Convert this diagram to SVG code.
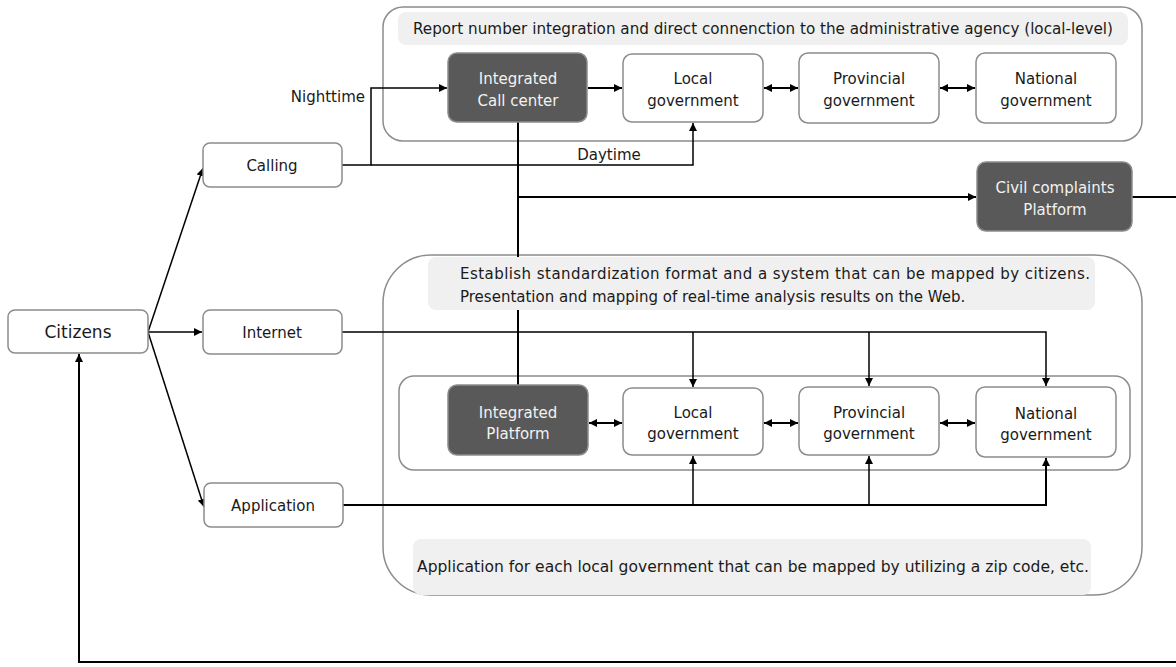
<svg xmlns="http://www.w3.org/2000/svg" width="1176" height="667" viewBox="0 0 1176 667">
  <defs>
    <marker id="ah" viewBox="0 0 10 10" refX="10" refY="5" markerWidth="8" markerHeight="8" markerUnits="userSpaceOnUse" orient="auto-start-reverse">
      <path d="M0,0 L10,5 L0,10 z" fill="#000"/>
    </marker>
    <style>
      .box { fill: #fff; stroke: #8c8c8c; stroke-width: 1.5; }
      .dark { fill: #595959; stroke: #8c8c8c; stroke-width: 1.5; }
      .group { fill: #fff; stroke: #8c8c8c; stroke-width: 1.5; }
      .note { fill: #f0f0f0; stroke: none; }
      .t { font-family: "DejaVu Sans", "Liberation Sans", sans-serif; font-size: 15px; fill: #1a1a1a; text-anchor: middle; }
      .w { fill: #f2f2f2; }
      .n { font-family: "DejaVu Sans", "Liberation Sans", sans-serif; font-size: 15px; fill: #1a1a1a; }
      .ln { fill: none; stroke: #000; stroke-width: 1.5; }
      .lnb { fill: none; stroke: #000; stroke-width: 2; }
    </style>
  </defs>

  <!-- containers -->
  <g id="top-group">
    <rect class="group" x="383" y="7" width="759" height="134" rx="20"/>
    <rect class="note" x="398" y="12" width="730" height="33" rx="8"/>
    <text class="t" x="763" y="34" textLength="700" lengthAdjust="spacingAndGlyphs">Report number integration and direct connenction to the administrative agency (local-level)</text>
  </g>
  <g id="bottom-group">
    <rect class="group" x="383" y="255" width="759" height="340" rx="48"/>
    <rect class="group" x="399" y="376" width="731" height="94" rx="15"/>
  </g>

  <!-- connectors -->
  <g id="connectors">
    <line class="ln" x1="148" y1="332" x2="203" y2="168" marker-end="url(#ah)"/>
    <line class="ln" x1="148" y1="332" x2="202" y2="332" marker-end="url(#ah)"/>
    <line class="ln" x1="148" y1="332" x2="204" y2="507" marker-end="url(#ah)"/>
    <!-- calling: nighttime / daytime -->
    <polyline class="ln" points="342,165 371,165 371,88 447,88" marker-end="url(#ah)"/>
    <polyline class="ln" points="371,165 693,165 693,123" marker-end="url(#ah)"/>
    <line class="lnb" x1="588" y1="88" x2="622" y2="88" marker-end="url(#ah)"/>
    <line class="lnb" x1="764" y1="88" x2="798" y2="88" marker-start="url(#ah)" marker-end="url(#ah)"/>
    <line class="lnb" x1="940" y1="88" x2="975" y2="88" marker-start="url(#ah)" marker-end="url(#ah)"/>
    <!-- call center to platforms -->
    <line class="lnb" x1="518" y1="122" x2="518" y2="385"/>
    <line class="lnb" x1="518" y1="197" x2="976" y2="197" marker-end="url(#ah)"/>
    <line class="lnb" x1="1132" y1="197" x2="1176" y2="197"/>
    <!-- internet -->
    <polyline class="ln" points="342,332 1046,332 1046,386" marker-end="url(#ah)"/>
    <line class="ln" x1="693" y1="332" x2="693" y2="387" marker-end="url(#ah)"/>
    <line class="ln" x1="869" y1="332" x2="869" y2="386" marker-end="url(#ah)"/>
    <!-- lower row -->
    <line class="lnb" x1="589" y1="423" x2="622" y2="423" marker-start="url(#ah)" marker-end="url(#ah)"/>
    <line class="lnb" x1="764" y1="423" x2="798" y2="423" marker-start="url(#ah)" marker-end="url(#ah)"/>
    <line class="lnb" x1="940" y1="423" x2="975" y2="423" marker-start="url(#ah)" marker-end="url(#ah)"/>
    <!-- application -->
    <polyline class="lnb" points="343,505 1046,505 1046,458" marker-end="url(#ah)"/>
    <line class="ln" x1="693" y1="505" x2="693" y2="456" marker-end="url(#ah)"/>
    <line class="ln" x1="869" y1="505" x2="869" y2="456" marker-end="url(#ah)"/>
    <!-- feedback to citizens -->
    <polyline class="lnb" points="1176,662 79,662 79,354" marker-end="url(#ah)"/>
    <text class="n" x="365" y="102" text-anchor="end">Nighttime</text>
    <text class="t" x="609" y="160">Daytime</text>
  </g>

  <!-- notes drawn over the trunk line -->
  <g id="note-standard">
    <rect class="note" x="428" y="257" width="667" height="53" rx="8"/>
    <text class="n" x="460" y="279" textLength="630" lengthAdjust="spacing">Establish standardization format and a system that can be mapped by citizens.</text>
    <text class="n" x="460" y="302">Presentation and mapping of real-time analysis results on the Web.</text>
  </g>
  <g id="note-zip">
    <rect class="note" x="413" y="539" width="678" height="56" rx="8"/>
    <text class="n" x="417" y="572" textLength="672" lengthAdjust="spacingAndGlyphs">Application for each local government that can be mapped by utilizing a zip code, etc.</text>
  </g>

  <!-- nodes -->
  <g id="citizens">
    <rect class="box" x="8" y="310" width="140" height="43" rx="7"/>
    <text class="t" x="78" y="338" style="font-size:17px">Citizens</text>
  </g>
  <g id="calling">
    <rect class="box" x="203" y="143" width="139" height="44" rx="7"/>
    <text class="t" x="272" y="171">Calling</text>
  </g>
  <g id="internet">
    <rect class="box" x="203" y="310" width="139" height="44" rx="7"/>
    <text class="t" x="272" y="338">Internet</text>
  </g>
  <g id="application">
    <rect class="box" x="204" y="483" width="139" height="44" rx="7"/>
    <text class="t" x="273" y="511">Application</text>
  </g>

  <g id="call-center">
    <rect class="dark" x="448" y="53" width="139" height="69" rx="9"/>
    <text class="t w" x="518" y="84">Integrated</text>
    <text class="t w" x="518" y="106">Call center</text>
  </g>
  <g id="local-top">
    <rect class="box" x="623" y="54" width="140" height="68" rx="9"/>
    <text class="t" x="693" y="84">Local</text>
    <text class="t" x="693" y="106">government</text>
  </g>
  <g id="provincial-top">
    <rect class="box" x="799" y="53" width="140" height="70" rx="9"/>
    <text class="t" x="869" y="84">Provincial</text>
    <text class="t" x="869" y="106">government</text>
  </g>
  <g id="national-top">
    <rect class="box" x="976" y="53" width="140" height="70" rx="9"/>
    <text class="t" x="1046" y="84">National</text>
    <text class="t" x="1046" y="106">government</text>
  </g>
  <g id="civil-complaints">
    <rect class="dark" x="977" y="162" width="155" height="69" rx="9"/>
    <text class="t w" x="1055" y="193">Civil complaints</text>
    <text class="t w" x="1055" y="215">Platform</text>
  </g>

  <g id="integrated-platform">
    <rect class="dark" x="448" y="385" width="140" height="70" rx="9"/>
    <text class="t w" x="518" y="418">Integrated</text>
    <text class="t w" x="518" y="439">Platform</text>
  </g>
  <g id="local-bottom">
    <rect class="box" x="623" y="388" width="140" height="67" rx="9"/>
    <text class="t" x="693" y="418">Local</text>
    <text class="t" x="693" y="439">government</text>
  </g>
  <g id="provincial-bottom">
    <rect class="box" x="799" y="387" width="140" height="68" rx="9"/>
    <text class="t" x="869" y="418">Provincial</text>
    <text class="t" x="869" y="439">government</text>
  </g>
  <g id="national-bottom">
    <rect class="box" x="976" y="387" width="140" height="70" rx="9"/>
    <text class="t" x="1046" y="419">National</text>
    <text class="t" x="1046" y="440">government</text>
  </g>
</svg>
